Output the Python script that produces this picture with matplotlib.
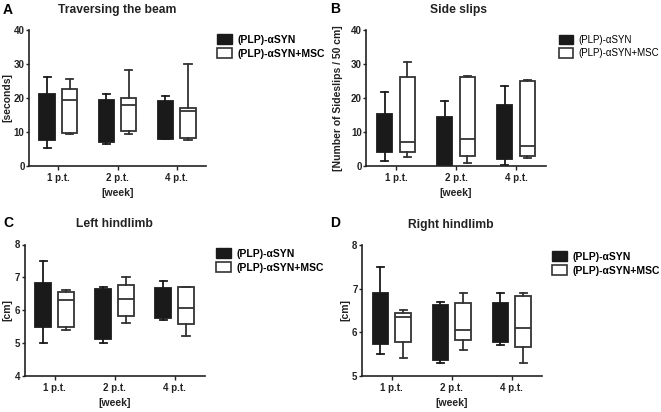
import matplotlib.pyplot as plt
from matplotlib.patches import Patch

plt.rcParams['font.family'] = ['Liberation Sans', 'DejaVu Sans']
plt.rcParams['font.weight'] = 'bold'
plt.rcParams['axes.labelweight'] = 'bold'
plt.rcParams['axes.titleweight'] = 'bold'

W, H = 661, 412

weeks = ["1 p.t.", "2 p.t.", "4 p.t."]
groups = ["(PLP)-\u03b1SYN", "(PLP)-\u03b1SYN+MSC"]

# per week: [whisker low, q1, median, q3, whisker high]
beam_syn = [[5.3, 7.5, 14.0, 21.0, 26.0], [6.5, 7.0, 13.0, 19.5, 21.0], [7.8, 7.9, 13.0, 19.2, 20.6]]
beam_msc = [[9.3, 9.7, 19.3, 22.5, 25.5], [9.3, 10.2, 18.0, 20.0, 28.2], [7.7, 8.2, 16.2, 17.0, 30.0]]

slips_syn = [[1.3, 4.0, 9.0, 15.3, 21.7], [0.0, 0.3, 6.0, 14.3, 19.0], [0.3, 2.0, 9.0, 17.8, 23.6]]
slips_msc = [[2.6, 4.0, 7.0, 26.0, 30.7], [0.7, 3.0, 8.0, 26.0, 26.3], [2.3, 3.0, 5.7, 25.0, 25.3]]

left_syn = [[5.0, 5.5, 6.2, 6.83, 7.5], [5.0, 5.13, 6.0, 6.63, 6.7], [5.7, 5.75, 6.2, 6.68, 6.9]]
left_msc = [[5.4, 5.47, 6.3, 6.55, 6.6], [5.6, 5.82, 6.35, 6.78, 7.0], [5.2, 5.57, 6.05, 6.7, 6.7]]

right_syn = [[5.5, 5.72, 6.3, 6.9, 7.5], [5.3, 5.37, 6.0, 6.63, 6.7], [5.7, 5.77, 6.2, 6.68, 6.9]]
right_msc = [[5.4, 5.77, 6.35, 6.43, 6.5], [5.6, 5.82, 6.05, 6.68, 6.9], [5.3, 5.67, 6.1, 6.83, 6.9]]

# letter, title, ylabel, data, ylim, yticks, axes box (px), title pos, letter pos,
# ylabel x, legend pos, legend weight, legend size
panels = [
    ("A", "Traversing the beam", "[seconds]", beam_syn, beam_msc, (0, 40), [0, 10, 20, 30, 40],
     (28.7, 30, 206.3, 165.7), (117, 10), (3, 10), 12, (217, 34), "bold", 7.5),
    ("B", "Side slips", "[Number of Sideslips / 50 cm]", slips_syn, slips_msc, (0, 40), [0, 10, 20, 30, 40],
     (366, 30, 546, 165.7), (458, 10), (330, 9), 343, (559, 35), "normal", 7),
    ("C", "Left hindlimb", "[cm]", left_syn, left_msc, (4, 8), [4, 5, 6, 7, 8],
     (24.5, 244.5, 204.5, 375.7), (114, 224), (3, 223), 12, (216, 248), "bold", 7.5),
    ("D", "Right hindlimb", "[cm]", right_syn, right_msc, (5, 8), [5, 6, 7, 8],
     (361.7, 245, 541.7, 375.7), (451, 225), (330, 223), 350, (552, 251), "bold", 7.5),
]

ink = "#222222"
dark = "#1a1a1a"


def stats(rows):
    return [dict(whislo=r[0], q1=r[1], med=r[2], q3=r[3], whishi=r[4]) for r in rows]


fig = plt.figure(figsize=(W / 100, H / 100), dpi=100)

for (letter, title, ylabel, syn, msc, ylim, yticks, (l, t, r, b),
     tpos, lpos, ylx, legpos, legw, legsize) in panels:
    ax = fig.add_axes([l / W, 1 - b / H, (r - l) / W, (b - t) / H])
    centers = [i + 0.5 for i in range(len(weeks))]
    for data, off, face, edge in [(syn, -0.19, dark, dark), (msc, 0.19, "white", "#333333")]:
        ax.bxp(stats(data), positions=[c + off for c in centers], widths=0.26,
               showfliers=False, patch_artist=True, manage_ticks=False,
               boxprops=dict(facecolor=face, edgecolor=edge, linewidth=1.3),
               medianprops=dict(color=edge, linewidth=1.3),
               whiskerprops=dict(color=edge, linewidth=1.3),
               capprops=dict(color=edge, linewidth=1.3), capwidths=0.12)
    ax.set_xlim(0, 3)
    ax.set_ylim(*ylim)
    ax.set_xticks(centers)
    ax.set_xticklabels(weeks)
    ax.set_yticks(yticks)
    for s in ["top", "right"]:
        ax.spines[s].set_visible(False)
    for s in ["left", "bottom"]:
        ax.spines[s].set_color(ink)
        ax.spines[s].set_linewidth(1.2)
    ax.tick_params(colors=ink, labelsize=7, length=3, width=1, pad=2)
    ax.tick_params(axis="y", length=2, pad=1)
    ax.set_xlabel("[week]", fontsize=7.5, color=ink, labelpad=4)
    ax.set_ylabel(ylabel, fontsize=7.5, color=ink)
    ax.yaxis.set_label_coords((ylx - l) / (r - l), 0.5)
    fig.text(tpos[0] / W, 1 - tpos[1] / H, title, fontsize=8.7, fontweight="bold",
             ha="center", va="center", color=ink)
    fig.text(lpos[0] / W, 1 - lpos[1] / H, letter, fontsize=10, fontweight="bold",
             ha="left", va="center", color="black")
    handles = [Patch(facecolor=dark, edgecolor=dark),
               Patch(facecolor="white", edgecolor="#333333", linewidth=1.2)]
    fig.legend(handles, groups, loc="upper left",
               bbox_to_anchor=(legpos[0] / W, 1 - legpos[1] / H), frameon=False,
               prop=dict(size=legsize, weight=legw), handlelength=1.4, handleheight=1.1,
               handletextpad=0.6, labelspacing=0.35, borderaxespad=0, borderpad=0)

fig.savefig("out.png", dpi=100)
